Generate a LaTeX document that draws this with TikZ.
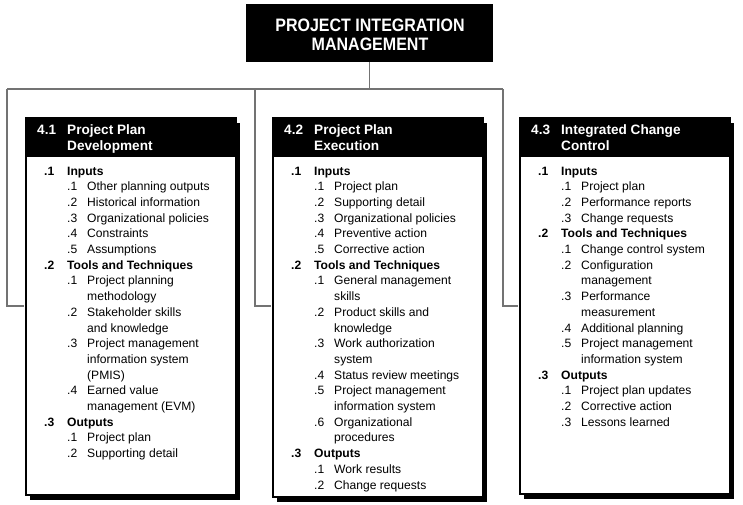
\documentclass[tikz,border=0pt]{standalone}
\usepackage{fontspec}
\usepackage{array}
\setmainfont{Liberation Sans}
\newfontfamily\titlefont[FakeStretch=0.89]{Liberation Sans}
\usetikzlibrary{shadows}
\newcommand\sub[2]{& #1 & #2\\}
\newcommand\cont[1]{& & #1\\}
\newcommand\grp[2]{\textbf{#1} & \multicolumn{2}{@{}l@{}}{\textbf{#2}}\\}
\newcommand\hdr[3]{\begin{tabular}[t]{@{}p{30pt}@{}l@{}}#1 & #2\\ & #3\end{tabular}}
\newenvironment{itemtab}{\begin{tabular}[t]{@{}p{23pt}@{}p{20pt}@{}l@{}}}{\end{tabular}}
\begin{document}
\begin{tikzpicture}[x=1pt,y=-1pt,
  conn/.style={draw=black!55, line width=1.4pt},
  panel/.style={draw=black, line width=1.8pt, fill=white, anchor=north west,
    minimum width=210pt, inner sep=0pt,
    drop shadow={shadow xshift=4pt, shadow yshift=-5pt, fill=black, opacity=1}},
  headbar/.style={fill=black, anchor=north west, minimum width=210pt,
    minimum height=40pt, inner sep=0pt},
  headtext/.style={anchor=base west, inner sep=0pt, text=white,
    font=\fontsize{13.6}{15.5}\selectfont\bfseries},
  bodytext/.style={anchor=base west, inner sep=0pt,
    font=\fontsize{12.1}{15.7}\selectfont},
  titlebox/.style={fill=black, minimum width=247pt, minimum height=58pt,
    inner sep=0pt, anchor=north west},
  titletext/.style={anchor=base, inner sep=0pt, text=white,
    font=\titlefont\fontsize{18}{19}\selectfont\bfseries}
]
\useasboundingbox[fill=white] (0,0) rectangle (743,504);

% title
\node[titlebox] (title) at (246,4) {};
\node[titletext] (titlelbl) at (370,31)
  {\begin{tabular}[t]{@{}c@{}}PROJECT INTEGRATION\\MANAGEMENT\end{tabular}};

% bus coordinates
\coordinate (busL) at (7,89);
\coordinate (busM) at (255,89);
\coordinate (busR) at (503,89);
\coordinate (foot1) at (7,306);

% panels
\node[panel, minimum height=377pt] (p1) at (25,117) {};
\node[headbar] (h1) at (25,117) {};
\node[panel, minimum height=379pt] (p2) at (272,117) {};
\node[headbar] (h2) at (272,117) {};
\node[panel, minimum height=376pt] (p3) at (519,117) {};
\node[headbar] (h3) at (519,117) {};

% connectors
\draw[conn] (title.south) -- (title.south |- busL);
\draw[conn] (busL) -- (busR);
\draw[conn, shorten >=0.9pt] (busL) |- (p1.west |- foot1);
\draw[conn, shorten >=0.9pt] (busM) |- (p2.west |- foot1);
\draw[conn, shorten >=0.9pt] (busR) |- (p3.west |- foot1);

% headers
\node[headtext] (t1) at (37,134.5) {\hdr{4.1}{Project Plan}{Development}};
\node[headtext] (t2) at (284,134.5) {\hdr{4.2}{Project Plan}{Execution}};
\node[headtext] (t3) at (531,134.5) {\hdr{4.3}{Integrated Change}{Control}};

% bodies
\node[bodytext] (b1) at (44,175) {\begin{itemtab}
\grp{.1}{Inputs}
\sub{.1}{Other planning outputs}
\sub{.2}{Historical information}
\sub{.3}{Organizational policies}
\sub{.4}{Constraints}
\sub{.5}{Assumptions}
\grp{.2}{Tools and Techniques}
\sub{.1}{Project planning}
\cont{methodology}
\sub{.2}{Stakeholder skills}
\cont{and knowledge}
\sub{.3}{Project management}
\cont{information system}
\cont{(PMIS)}
\sub{.4}{Earned value}
\cont{management (EVM)}
\grp{.3}{Outputs}
\sub{.1}{Project plan}
& .2 & Supporting detail
\end{itemtab}};

\node[bodytext] (b2) at (291,175) {\begin{itemtab}
\grp{.1}{Inputs}
\sub{.1}{Project plan}
\sub{.2}{Supporting detail}
\sub{.3}{Organizational policies}
\sub{.4}{Preventive action}
\sub{.5}{Corrective action}
\grp{.2}{Tools and Techniques}
\sub{.1}{General management}
\cont{skills}
\sub{.2}{Product skills and}
\cont{knowledge}
\sub{.3}{Work authorization}
\cont{system}
\sub{.4}{Status review meetings}
\sub{.5}{Project management}
\cont{information system}
\sub{.6}{Organizational}
\cont{procedures}
\grp{.3}{Outputs}
\sub{.1}{Work results}
& .2 & Change requests
\end{itemtab}};

\node[bodytext] (b3) at (538,175) {\begin{itemtab}
\grp{.1}{Inputs}
\sub{.1}{Project plan}
\sub{.2}{Performance reports}
\sub{.3}{Change requests}
\grp{.2}{Tools and Techniques}
\sub{.1}{Change control system}
\sub{.2}{Configuration}
\cont{management}
\sub{.3}{Performance}
\cont{measurement}
\sub{.4}{Additional planning}
\sub{.5}{Project management}
\cont{information system}
\grp{.3}{Outputs}
\sub{.1}{Project plan updates}
\sub{.2}{Corrective action}
& .3 & Lessons learned
\end{itemtab}};
\end{tikzpicture}
\end{document}
